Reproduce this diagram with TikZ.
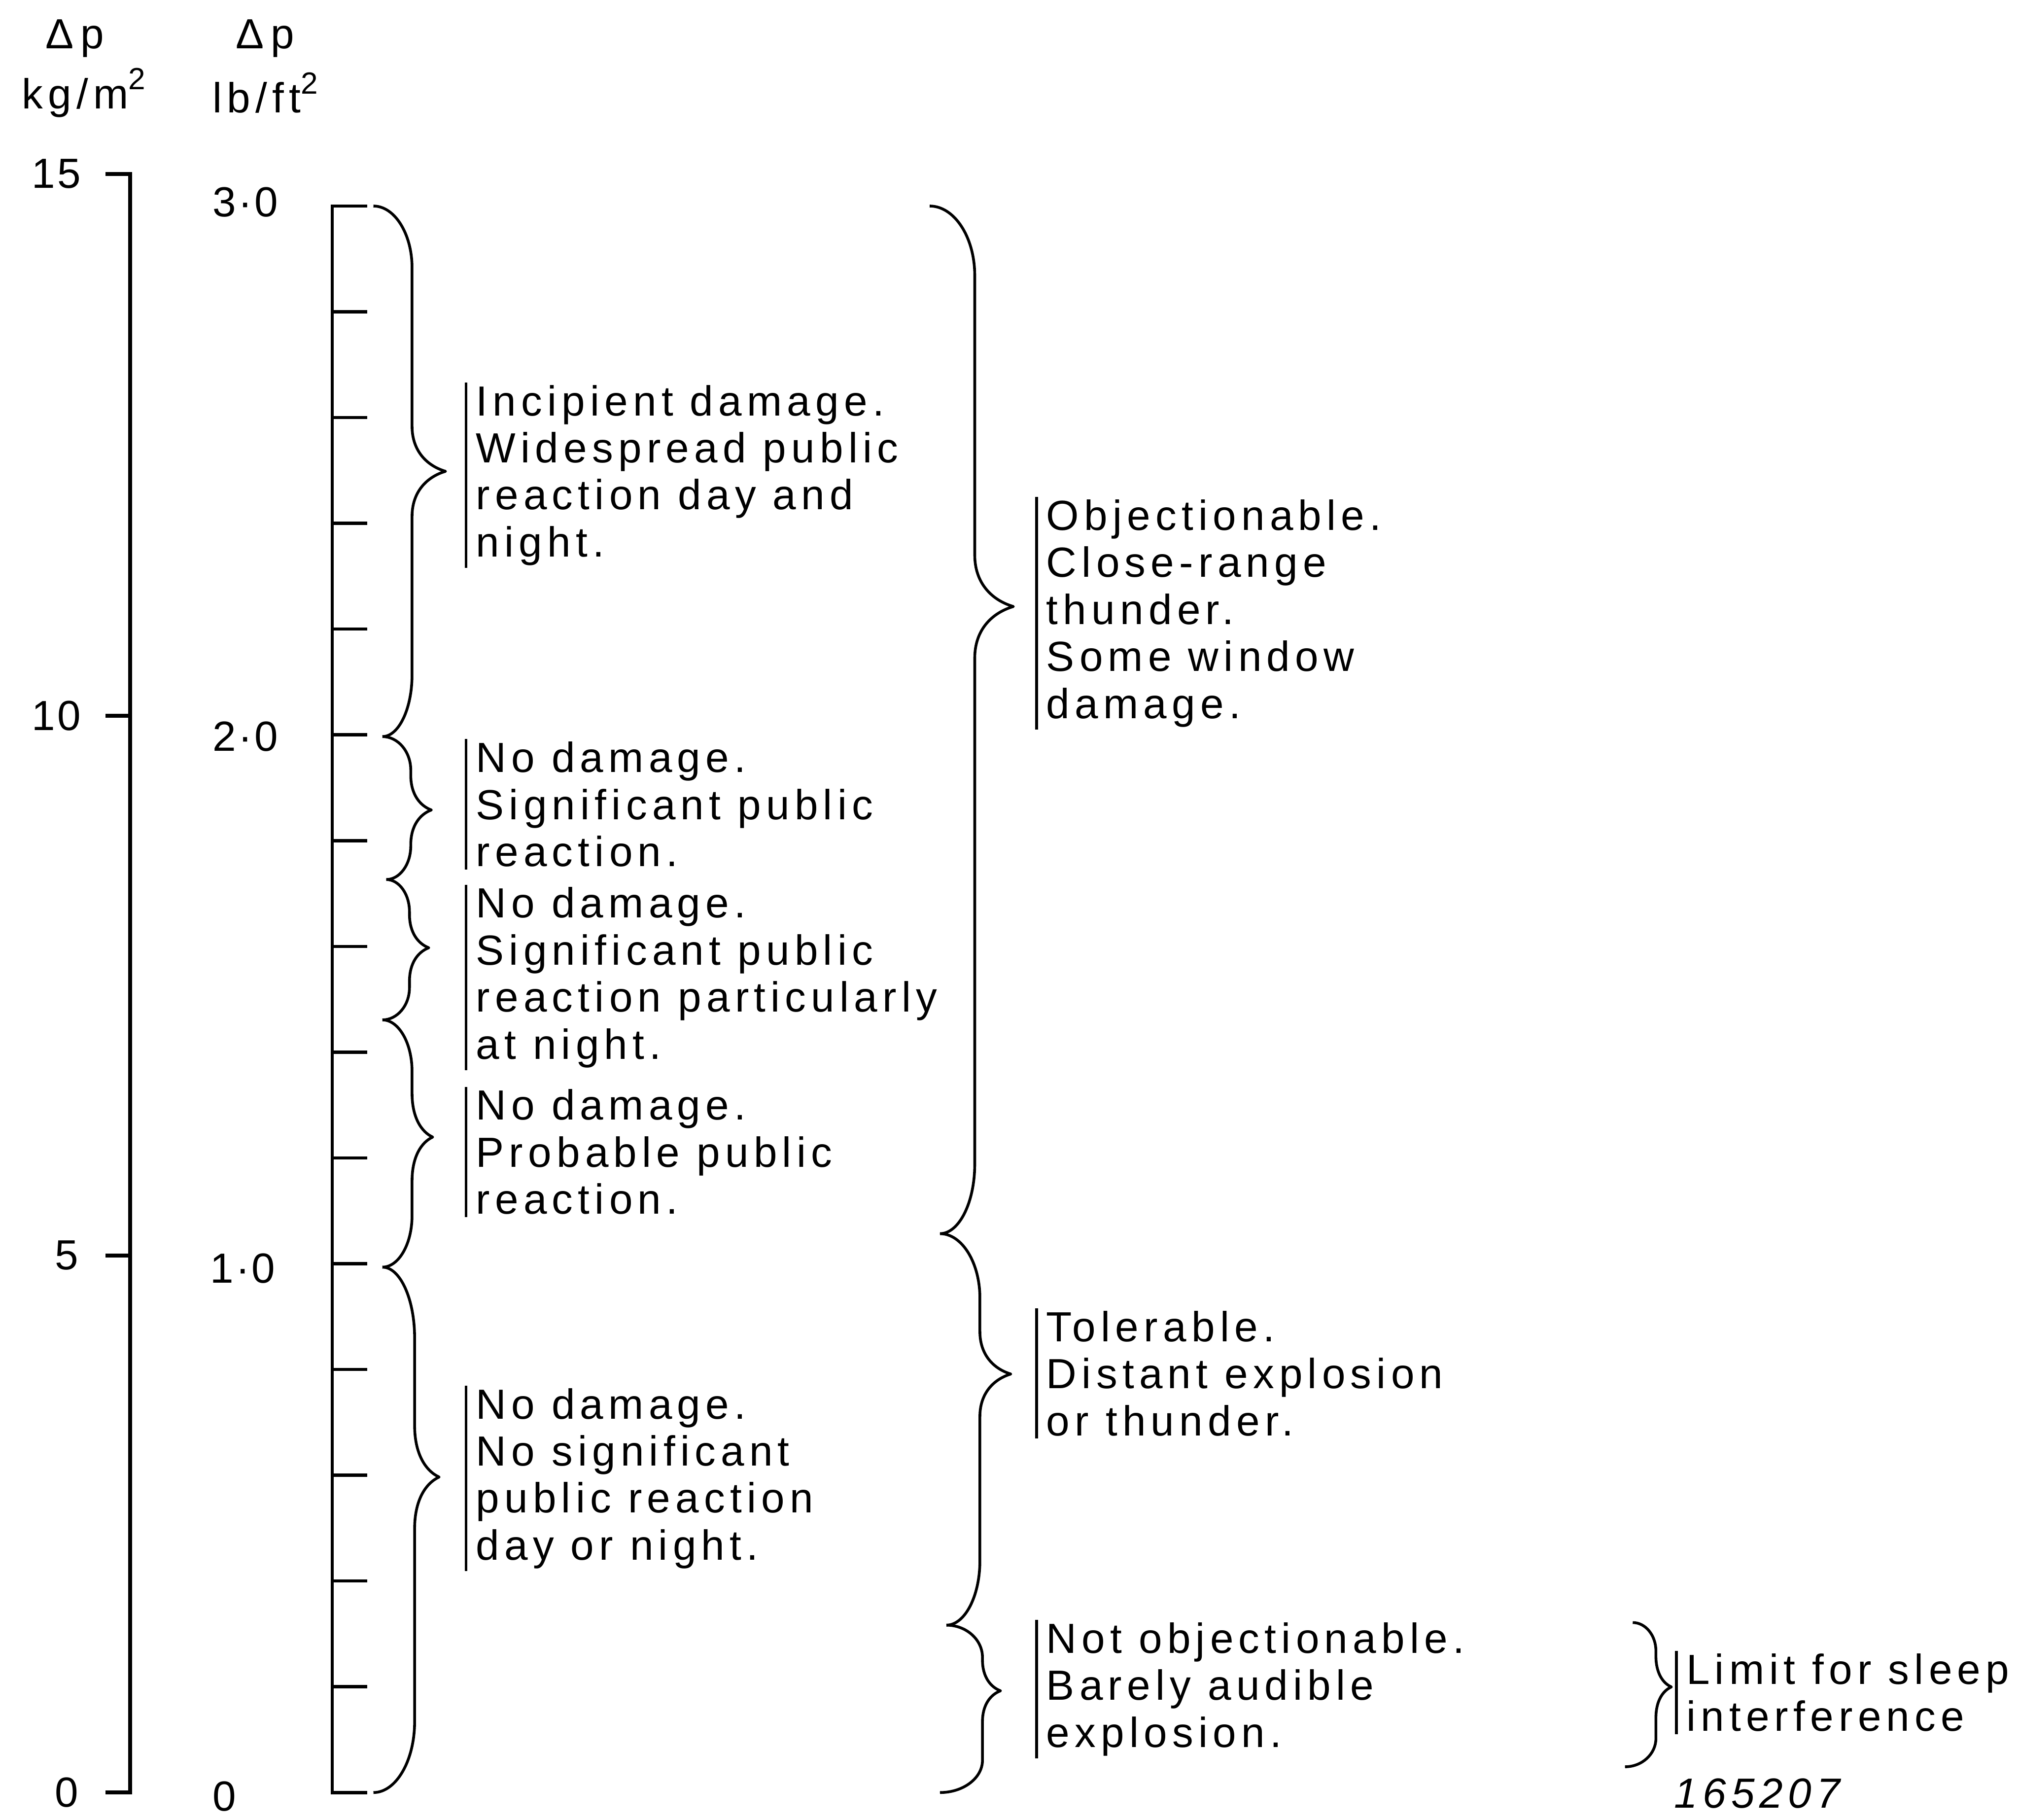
\documentclass[tikz,border=0pt]{standalone}
\usepackage{fontspec}
\setmainfont{Liberation Sans}[LetterSpace=12]
\newfontfamily\numfamily{Liberation Sans}[LetterSpace=5]
\newcommand{\descfont}{\fontsize{27.5}{30.7}\selectfont}
\newcommand{\numfont}{\numfamily\fontsize{27.5}{30.7}\selectfont}
\newcommand{\drawbrace}[9]{%
  \draw[bracestyle] (#1,#2) .. controls ({#1+0.55*(#5-#1)},#2) and (#5,{#2+0.45*#8}) .. (#5,{#2+#8})
   -- (#5,{#7-#9}) .. controls (#5,{#7-0.45*#9}) and ({#5+0.45*(#6-#5)},{#7-0.12*#9}) .. (#6,#7)
   .. controls ({#5+0.45*(#6-#5)},{#7+0.12*#9}) and (#5,{#7+0.45*#9}) .. (#5,{#7+#9})
   -- (#5,{#4-#8}) .. controls (#5,{#4-0.45*#8}) and ({#3+0.55*(#5-#3)},#4) .. (#3,#4);
}
\begin{document}
\begin{tikzpicture}[x=0.02954cm, y=-0.02954cm,
  axisline/.style={line width=2.6pt},
  scaleline/.style={line width=2.1pt},
  bracestyle/.style={line width=1.8pt, line join=round},
  barline/.style={line width=1.8pt},
  desc/.style={anchor=north west, align=left, inner xsep=0.22cm, inner ysep=1.5pt, font=\descfont},
  lab/.style={inner sep=0pt, font=\descfont},
  num/.style={inner sep=0pt, font=\numfont}]
\useasboundingbox (0,0) rectangle (1568,1413);

% headers
\node[lab] (h1) at (58,30) {Δ\,p};
\node[lab] (h2) at (65,72) {kg/m\raisebox{0.45em}{\fontsize{20}{20}\selectfont 2}};
\node[lab] (h3) at (206,30) {Δ\,p};
\node[lab] (h4) at (206,72) {lb/ft\raisebox{0.45em}{\fontsize{20}{20}\selectfont 2}};

% left axis (kg/m2)
\draw[axisline] (82,135) -- (101,135) -- (101,1392) -- (82,1392);
\draw[axisline] (82,556) -- (101,556);
\draw[axisline] (82,975) -- (101,975);
\node[num, anchor=east] (k15) at (63,135) {15};
\node[num, anchor=east] (k10) at (63,556) {10};
\node[num, anchor=east] (k5) at (61,975) {5};
\node[num, anchor=east] (k0) at (61,1392) {0};

% right scale (lb/ft2)
\draw[scaleline] (285,160) -- (258,160) -- (258,1392) -- (285,1392);
\foreach \k in {1,...,14} \draw[scaleline] (258,{1392-\k*82.133}) -- (285,{1392-\k*82.133});
\node[num, anchor=west] (p3) at (165,157) {3·0};
\node[num, anchor=west] (p2) at (165,572) {2·0};
\node[num, anchor=west] (p1) at (163,985) {1·0};
\node[num, anchor=west] (p0) at (165,1395) {0};

% first column braces
\drawbrace{290}{160}{297}{572}{320}{346}{366}{48}{35}
\drawbrace{297}{572}{300}{683}{319}{335}{629}{26}{27}
\drawbrace{300}{683}{297}{792}{318}{333}{736}{25}{26}
\drawbrace{297}{792}{297}{984}{320}{336}{883}{40}{34}
\drawbrace{297}{984}{290}{1392}{322}{341}{1147}{55}{40}

% second column braces
\drawbrace{722}{160}{730}{958}{757}{787}{471}{54}{40}
\drawbrace{730}{958}{735}{1262}{761}{785}{1067}{50}{33}
\drawbrace{735}{1262}{730}{1392}{763}{777}{1313}{25}{24}

% third brace
\drawbrace{1268}{1260}{1262}{1372}{1286}{1298}{1310}{22}{24}

% descriptions
\node[desc] (t1) at (362,297) {Incipient damage.\\Widespread public\\reaction day and\\night.};
\node[desc] (t2) at (362,574) {No damage.\\Significant public\\reaction.};
\node[desc] (t3) at (362,687) {No damage.\\Significant public\\reaction particularly\\at night.};
\node[desc] (t4) at (362,844) {No damage.\\Probable public\\reaction.};
\node[desc] (t5) at (362,1076) {No damage.\\No significant\\public reaction\\day or night.};
\node[desc] (ta) at (805,386) {Objectionable.\\Close-range\\thunder.\\Some window\\damage.};
\node[desc] (tb) at (805,1016) {Tolerable.\\Distant explosion\\or thunder.};
\node[desc] (tc) at (805,1258) {Not objectionable.\\Barely audible\\explosion.};
\node[desc] (td) at (1302,1282) {Limit for sleep\\interference};
\foreach \n in {t1,t2,t3,t4,t5,ta,tb,tc,td} \draw[barline] (\n.north west) -- (\n.south west);

% figure number
\node[lab, anchor=base west, font=\descfont\itshape] (fig) at (1300,1404) {165207};
\end{tikzpicture}
\end{document}
